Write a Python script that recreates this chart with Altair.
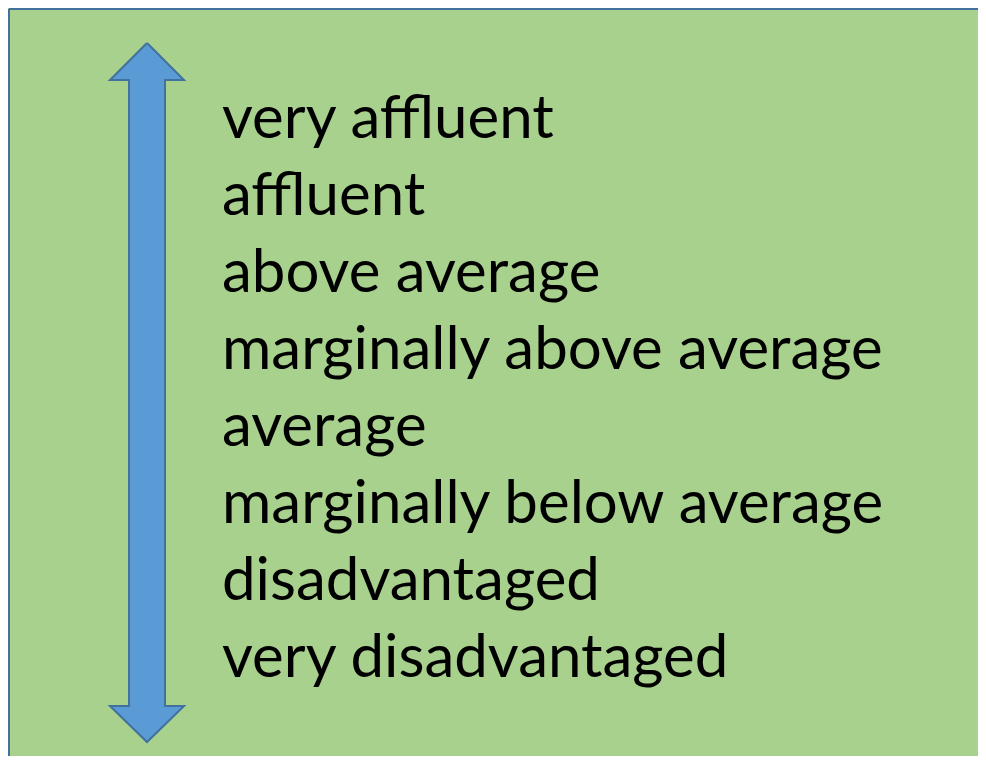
import altair as alt
import pandas as pd

# --- data ---------------------------------------------------------------
labels = [
    "very affluent",
    "affluent",
    "above average",
    "marginally above average",
    "average",
    "marginally below average",
    "disadvantaged",
    "very disadvantaged",
]
label_x = [222] * len(labels)
label_y = [138, 215, 292, 369, 446, 523, 600, 677]

# double-headed arrow outline (page pixel units)
arrow_x = [147, 184, 165, 165, 184, 147, 110, 129, 129, 110, 147]
arrow_y = [43, 80, 80, 706, 706, 742, 706, 706, 80, 80, 43]

# green panel extent (it runs past the right and bottom edges)
panel_x, panel_x2 = [9], [978]
panel_y, panel_y2 = [9], [756]

W, H = 970, 748
xs = alt.Scale(domain=[8, 8 + W], range=[0, W])
ys = alt.Scale(domain=[8, 8 + H], range=[0, H])

panel_df = pd.DataFrame({"x": panel_x, "x2": panel_x2, "y": panel_y, "y2": panel_y2})
arrow_df = pd.DataFrame({"x": arrow_x, "y": arrow_y, "i": list(range(len(arrow_x)))})
text_df = pd.DataFrame({"label": labels, "x": label_x, "y": label_y})

base_x = alt.X("x:Q", scale=xs, axis=None)
base_y = alt.Y("y:Q", scale=ys, axis=None)

panel = alt.Chart(panel_df).mark_rect(fill="#A9D18E").encode(
    x=base_x, x2="x2:Q", y=base_y, y2="y2:Q",
)
top_border = alt.Chart(panel_df).mark_rule(stroke="#41719C", strokeWidth=2).encode(
    x=base_x, x2="x2:Q", y=base_y,
)
left_border = alt.Chart(panel_df).mark_rule(stroke="#41719C", strokeWidth=2).encode(
    x=base_x, y=base_y, y2="y2:Q",
)

arrow = alt.Chart(arrow_df).mark_line(
    fill="#5B9BD5", stroke="#41719C", strokeWidth=2, strokeJoin="miter"
).encode(x=base_x, y=base_y, order="i:Q")

text = alt.Chart(text_df).mark_text(
    align="left", baseline="alphabetic", font="Lato", fontSize=60, color="#000000"
).encode(x=base_x, y=base_y, text="label:N")

chart = alt.layer(panel, top_border, left_border, arrow, text).properties(
    width=W, height=H, autosize=alt.AutoSizeParams(type="none"), padding=0,
    background="#A9D18E",
).configure_view(strokeWidth=0)

chart.save("out.html", embed_options={"renderer": "svg", "actions": False})
